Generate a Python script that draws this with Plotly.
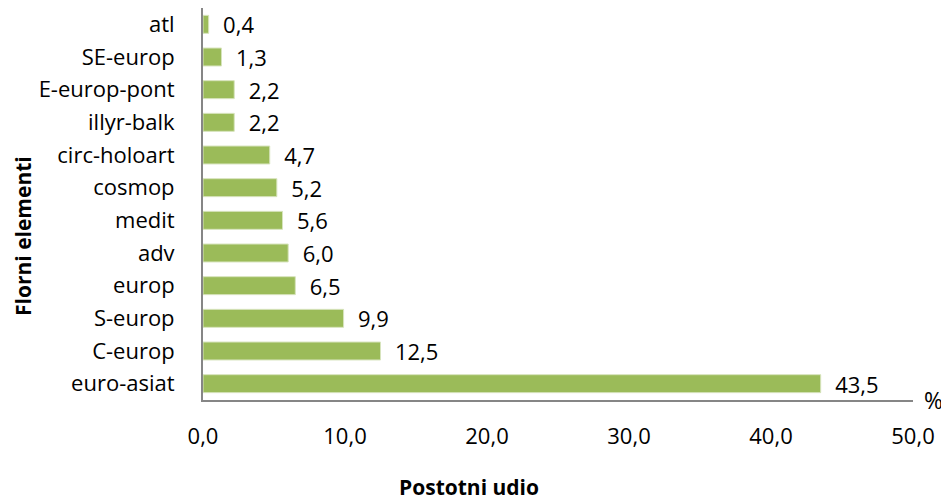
import plotly.graph_objects as go

categories = ["atl", "SE-europ", "E-europ-pont", "illyr-balk", "circ-holoart", "cosmop",
              "medit", "adv", "europ", "S-europ", "C-europ", "euro-asiat"]
values = [0.4, 1.3, 2.2, 2.2, 4.7, 5.2, 5.6, 6.0, 6.5, 9.9, 12.5, 43.5]
x_ticks = [0, 10, 20, 30, 40, 50]

FONT = "'Open Sans', Lato, sans-serif"

# page body has an 8px margin: figure placed at (8, 8)
OFF = 8
W, H = 949 - OFF, 501 - OFF
L, R, T, B = 203 - OFF, 913 - OFF, 7 - OFF + 1, 400 - OFF
pw, ph = R - L, B - T

fig = go.Figure(go.Bar(
    x=values, y=categories, orientation="h",
    marker=dict(color="#9BBB59", line=dict(color="#D7E4BD", width=1)),
    width=0.55,
    text=values, texttemplate="\u00a0\u00a0%{x:.1f}", textposition="outside",
    textfont=dict(size=22, color="#000000", family=FONT),
    constraintext="none",
    cliponaxis=False,
))

fig.update_layout(
    width=W, height=H,
    margin=dict(l=L, r=W - R, t=T, b=H - B, autoexpand=False),
    plot_bgcolor="white", paper_bgcolor="white",
    separators=",.",
    showlegend=False,
    font=dict(family=FONT, size=22, color="#000000"),
    xaxis=dict(range=[0, 50], tickvals=x_ticks, tickformat=".1f", automargin=False,
               showgrid=False, zeroline=False, showline=True, linecolor="#868686", linewidth=2,
               ticks="", ticklabelstandoff=16, tickfont=dict(size=22)),
    yaxis=dict(autorange="reversed", showgrid=False, zeroline=False, showline=True, automargin=False,
               linecolor="#868686", linewidth=2, ticks="", ticklabelstandoff=22,
               tickfont=dict(size=22)),
    annotations=[
        dict(text="<b>Postotni udio</b>", xref="paper", x=(469 - 203) / pw, yref="paper",
             y=-(487 - 400) / ph, showarrow=False, font=dict(size=21),
             xanchor="center", yanchor="middle"),
        dict(text="<b>Florni elementi</b>", xref="paper", x=-(203 - 23) / pw, yref="paper",
             y=(400 - 236) / ph, showarrow=False, textangle=-90, font=dict(size=21),
             xanchor="center", yanchor="middle"),
        dict(text="%", xref="paper", x=(933 - 203) / pw, yref="paper", y=-(400 - 400) / ph,
             showarrow=False, font=dict(size=23), xanchor="center", yanchor="middle"),
    ],
)

fig.write_html("out.html")
